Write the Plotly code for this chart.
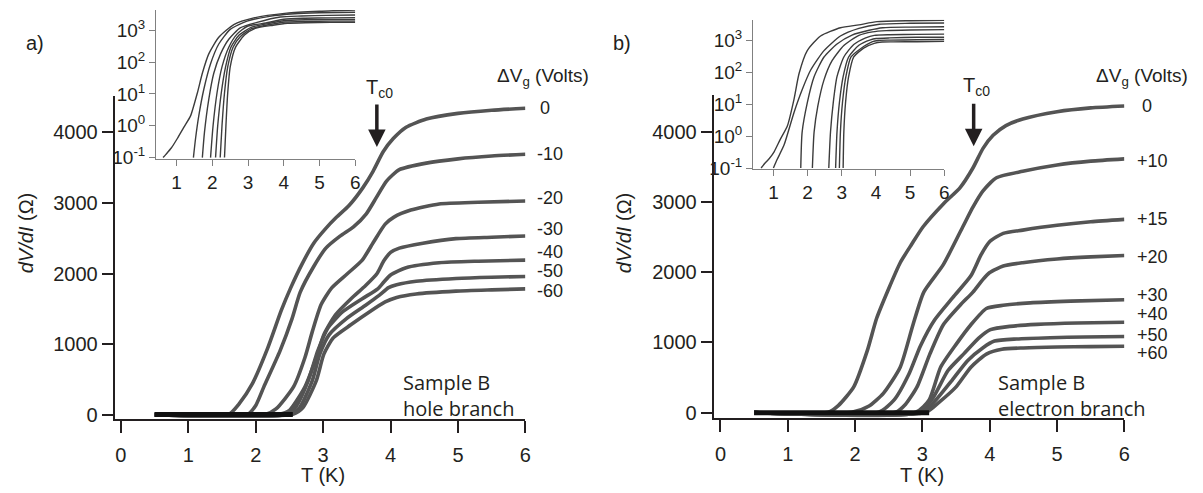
import plotly.graph_objects as go

W, H = 1203, 493

# ---------------- panel a) : sample B, hole branch ----------------
hole_gate = ["0", "-10", "-20", "-30", "-40", "-50", "-60"]
hole_T = [
    [0.5, 1.6, 1.75, 1.95, 2.18, 2.38, 2.52, 2.69, 2.86, 3.03, 3.2, 3.38, 3.59, 3.74, 3.89, 4.04, 4.23, 4.53, 5.0, 5.5, 6.0],
    [0.5, 1.88, 2.0, 2.12, 2.36, 2.54, 2.66, 2.86, 3.04, 3.25, 3.45, 3.64, 3.79, 3.94, 4.13, 4.53, 5.0, 5.5, 6.0],
    [0.5, 2.15, 2.3, 2.56, 2.73, 2.84, 2.97, 3.13, 3.35, 3.58, 3.75, 3.92, 4.05, 4.3, 4.72, 5.3, 6.0],
    [0.5, 2.35, 2.5, 2.73, 2.9, 3.01, 3.18, 3.41, 3.63, 3.8, 3.9, 4.0, 4.13, 4.48, 4.97, 5.5, 6.0],
    [0.5, 2.45, 2.6, 2.78, 2.92, 3.07, 3.29, 3.58, 3.81, 3.9, 4.0, 4.23, 4.72, 5.3, 6.0],
    [0.5, 2.5, 2.65, 2.84, 2.95, 3.09, 3.35, 3.63, 3.83, 3.97, 4.09, 4.38, 4.97, 5.5, 6.0],
    [0.5, 2.55, 2.7, 2.9, 3.01, 3.15, 3.41, 3.69, 3.92, 4.09, 4.38, 4.97, 5.5, 6.0],
]
hole_R = [
    [0, 5, 150, 440, 950, 1480, 1800, 2140, 2430, 2630, 2800, 2960, 3218, 3449, 3726, 3913, 4074, 4190, 4270, 4315, 4343],
    [0, 5, 130, 393, 903, 1365, 1736, 2100, 2360, 2530, 2662, 2847, 3079, 3310, 3472, 3565, 3625, 3665, 3690],
    [0, 5, 80, 393, 810, 1180, 1560, 1800, 1990, 2190, 2450, 2700, 2800, 2900, 2986, 3010, 3028],
    [0, 5, 60, 393, 810, 1134, 1412, 1640, 1830, 2000, 2180, 2300, 2360, 2430, 2495, 2515, 2532],
    [0, 5, 120, 486, 903, 1226, 1458, 1643, 1782, 1880, 1980, 2083, 2153, 2175, 2190],
    [0, 5, 100, 486, 857, 1134, 1365, 1551, 1690, 1800, 1840, 1890, 1930, 1948, 1958],
    [0, 5, 100, 486, 857, 1088, 1273, 1458, 1597, 1660, 1710, 1750, 1768, 1782],
]
hole_base_T = [0.5, 2.55]
hole_base_R = [0, 0]

# inset a) (log scale), values are log10 of dV/dI
hole_inset_T = [
    [0.62, 0.7, 0.85, 1.02, 1.2, 1.39, 1.58, 1.72, 1.9, 2.18, 2.6, 3.16, 4.08, 5.0, 6.0],
    [1.47, 1.53, 1.62, 1.76, 1.95, 2.18, 2.5, 2.97, 3.6, 4.3, 5.0, 6.0],
    [1.72, 1.78, 1.9, 2.04, 2.23, 2.46, 2.78, 3.25, 3.9, 4.5, 5.2, 6.0],
    [1.95, 2.02, 2.13, 2.27, 2.46, 2.69, 2.97, 3.5, 4.0, 4.6, 5.3, 6.0],
    [2.09, 2.15, 2.25, 2.37, 2.52, 2.75, 3.1, 3.6, 4.0, 4.6, 5.3, 6.0],
    [2.22, 2.27, 2.34, 2.43, 2.58, 2.78, 3.1, 3.6, 4.05, 4.6, 5.3, 6.0],
    [2.34, 2.38, 2.43, 2.5, 2.65, 2.9, 3.2, 3.7, 4.1, 4.6, 5.3, 6.0],
]
hole_inset_logR = [
    [-1.0, -0.9, -0.7, -0.4, -0.05, 0.31, 1.03, 1.65, 2.26, 2.78, 3.18, 3.39, 3.54, 3.6, 3.64],
    [-1.0, -0.4, 0.31, 1.14, 1.95, 2.57, 3.03, 3.29, 3.44, 3.52, 3.55, 3.57],
    [-1.0, -0.2, 0.83, 1.65, 2.26, 2.72, 3.08, 3.25, 3.42, 3.45, 3.47, 3.48],
    [-1.0, 0.0, 1.03, 1.85, 2.47, 2.88, 3.12, 3.23, 3.35, 3.38, 3.39, 3.40],
    [-1.0, 0.0, 1.03, 1.85, 2.47, 2.85, 3.1, 3.22, 3.3, 3.33, 3.34, 3.34],
    [-1.0, 0.0, 1.03, 1.85, 2.47, 2.8, 3.05, 3.18, 3.26, 3.28, 3.29, 3.29],
    [-1.0, 0.0, 1.03, 1.85, 2.47, 2.85, 3.06, 3.16, 3.22, 3.24, 3.25, 3.25],
]

# ---------------- panel b) : sample B, electron branch ----------------
elec_gate = ["0", "+10", "+15", "+20", "+30", "+40", "+50", "+60"]
elec_T = [
    [0.5, 1.6, 1.75, 1.98, 2.18, 2.32, 2.5, 2.67, 2.84, 3.01, 3.31, 3.56, 3.75, 3.9, 4.05, 4.24, 4.49, 5.0, 5.5, 6.0],
    [0.5, 1.95, 2.2, 2.42, 2.67, 2.86, 3.02, 3.31, 3.6, 3.75, 3.9, 4.1, 4.49, 5.0, 5.5, 6.0],
    [0.5, 2.35, 2.58, 2.8, 2.97, 3.18, 3.45, 3.72, 3.87, 4.0, 4.2, 4.49, 5.0, 5.5, 6.0],
    [0.5, 2.6, 2.75, 2.92, 3.11, 3.31, 3.56, 3.75, 3.9, 4.0, 4.2, 4.49, 5.0, 5.5, 6.0],
    [0.5, 2.9, 3.1, 3.27, 3.5, 3.72, 3.95, 4.2, 4.6, 5.2, 6.0],
    [0.5, 2.95, 3.15, 3.38, 3.61, 3.84, 4.01, 4.3, 4.7, 5.3, 6.0],
    [0.5, 3.0, 3.2, 3.44, 3.67, 3.9, 4.07, 4.4, 4.9, 5.4, 6.0],
    [0.5, 3.05, 3.25, 3.5, 3.72, 3.95, 4.18, 4.5, 5.0, 5.5, 6.0],
]
elec_R = [
    [0, 5, 100, 367, 880, 1345, 1770, 2137, 2400, 2650, 2975, 3208, 3487, 3767, 3953, 4092, 4186, 4290, 4345, 4372],
    [0, 5, 90, 275, 647, 1253, 1718, 2110, 2650, 2929, 3161, 3348, 3440, 3530, 3585, 3617],
    [0, 5, 181, 550, 950, 1320, 1640, 1950, 2250, 2440, 2556, 2602, 2670, 2720, 2755],
    [0, 5, 120, 367, 834, 1253, 1532, 1718, 1900, 1997, 2090, 2137, 2190, 2220, 2239],
    [0, 5, 181, 647, 973, 1253, 1485, 1530, 1565, 1590, 1610],
    [0, 5, 200, 600, 834, 1066, 1183, 1230, 1258, 1278, 1289],
    [0, 5, 180, 461, 740, 926, 1020, 1050, 1068, 1078, 1085],
    [0, 5, 150, 367, 647, 834, 903, 922, 935, 941, 946],
]
elec_base_T = [0.5, 3.1]
elec_base_R = [0, 0]

elec_inset_T = [
    [0.64, 0.75, 0.88, 1.02, 1.2, 1.41, 1.6, 1.75, 1.99, 2.38, 2.96, 3.5, 4.03, 5.0, 6.0],
    [1.0, 1.1, 1.31, 1.6, 1.84, 2.09, 2.48, 2.96, 3.5, 4.1, 5.0, 6.0],
    [1.8, 1.84, 1.99, 2.19, 2.48, 2.86, 3.3, 3.8, 4.2, 5.0, 6.0],
    [2.14, 2.19, 2.3, 2.48, 2.72, 3.06, 3.5, 3.9, 4.3, 5.0, 6.0],
    [2.62, 2.67, 2.75, 2.86, 3.06, 3.35, 3.7, 3.95, 4.4, 5.2, 6.0],
    [2.82, 2.86, 2.93, 3.04, 3.2, 3.5, 3.84, 4.01, 4.4, 5.2, 6.0],
    [2.93, 2.96, 3.02, 3.12, 3.27, 3.55, 3.9, 4.07, 4.4, 5.2, 6.0],
    [3.04, 3.06, 3.11, 3.2, 3.35, 3.64, 3.95, 4.18, 4.5, 5.2, 6.0],
]
elec_inset_logR = [
    [-1.0, -0.85, -0.7, -0.49, -0.1, 0.33, 1.15, 1.97, 2.69, 3.15, 3.41, 3.5, 3.6, 3.63, 3.64],
    [-1.0, -0.75, -0.28, 0.74, 1.46, 2.08, 2.69, 3.15, 3.39, 3.52, 3.55, 3.56],
    [-1.0, 0.13, 1.05, 1.87, 2.49, 2.9, 3.18, 3.33, 3.41, 3.43, 3.44],
    [-1.0, 0.13, 0.95, 1.77, 2.38, 2.85, 3.17, 3.28, 3.32, 3.34, 3.35],
    [-1.0, 0.13, 1.05, 1.87, 2.49, 2.88, 3.09, 3.17, 3.19, 3.2, 3.21],
    [-1.0, 0.13, 1.05, 1.87, 2.49, 2.86, 3.03, 3.07, 3.09, 3.11, 3.11],
    [-1.0, 0.13, 1.05, 1.87, 2.49, 2.75, 2.97, 3.01, 3.02, 3.03, 3.04],
    [-1.0, 0.13, 1.05, 1.87, 2.49, 2.77, 2.92, 2.96, 2.965, 2.97, 2.98],
]

inset_ticks = [0.1, 1, 10, 100, 1000]
inset_ticktext = ["10<sup>-1</sup>", "10<sup>0</sup>", "10<sup>1</sup>", "10<sup>2</sup>", "10<sup>3</sup>"]

INK = "#231f20"
CURVE = "#545454"
TICKFONT = "Liberation Sans, Arial, sans-serif"
TEXTFONT = "Open Sans, Noto Sans, sans-serif"


def px(x):
    return x / W


def py(y):
    return 1 - y / H


fig = go.Figure()


def add_main(T_list, R_list, base_T, base_R, xa, ya):
    for T, R in zip(T_list, R_list):
        fig.add_trace(go.Scatter(
            x=T, y=R, mode="lines", xaxis=xa, yaxis=ya, showlegend=False, hoverinfo="skip",
            line=dict(color=CURVE, width=3.6, shape="spline", smoothing=0.6),
        ))
    fig.add_trace(go.Scatter(
        x=base_T, y=base_R, mode="lines", xaxis=xa, yaxis=ya, showlegend=False, hoverinfo="skip",
        line=dict(color="#111111", width=5),
    ))


def add_inset(T_list, logR_list, xa, ya):
    for T, L in zip(T_list, logR_list):
        fig.add_trace(go.Scatter(
            x=T, y=[10 ** v for v in L], mode="lines", xaxis=xa, yaxis=ya, showlegend=False,
            hoverinfo="skip", line=dict(color="#3c3c3c", width=1.4, shape="spline", smoothing=0.6),
        ))


add_main(hole_T, hole_R, hole_base_T, hole_base_R, "x", "y")
add_inset(hole_inset_T, hole_inset_logR, "x2", "y2")
add_main(elec_T, elec_R, elec_base_T, elec_base_R, "x3", "y3")
add_inset(elec_inset_T, elec_inset_logR, "x4", "y4")

main_ax = dict(showline=True, linecolor=INK, linewidth=1.6, ticks="outside", ticklen=12, tickwidth=1.6,
               tickcolor=INK, showgrid=False, zeroline=False,
               tickfont=dict(family=TICKFONT, size=20, color=INK))
inset_ax = dict(showline=True, linecolor="#808080", linewidth=1.4, ticks="outside", ticklen=6, tickwidth=1.3,
                tickcolor="#808080", showgrid=False, zeroline=False,
                tickfont=dict(family=TICKFONT, size=19, color=INK))

fig.update_layout(
    width=W, height=H, autosize=False,
    margin=dict(l=0, r=0, t=0, b=0),
    paper_bgcolor="white", plot_bgcolor="rgba(0,0,0,0)",
    xaxis=dict(main_ax, domain=[px(108), px(520)], range=[-0.081, 6.0], tickvals=[0, 1, 2, 3, 4, 5, 6],
               anchor="y", ticklabelstandoff=5),
    yaxis=dict(main_ax, domain=[py(420), py(90)], range=[-69, 4514], tickvals=[0, 1000, 2000, 3000, 4000],
               anchor="x"),
    xaxis2=dict(inset_ax, domain=[px(149), px(349)], range=[0.43, 6.0], tickvals=[1, 2, 3, 4, 5, 6], anchor="y2"),
    yaxis2=dict(inset_ax, type="log", domain=[py(154.3), py(2)], range=[-1.05, 3.64], tickvals=inset_ticks,
                ticktext=inset_ticktext, anchor="x2"),
    xaxis3=dict(main_ax, domain=[px(710), px(1122)], range=[-0.089, 6.0], tickvals=[0, 1, 2, 3, 4, 5, 6],
                anchor="y3", ticklabelstandoff=5),
    yaxis3=dict(main_ax, domain=[py(418.3), py(88.3)], range=[-74, 4535], tickvals=[0, 1000, 2000, 3000, 4000],
                anchor="x3"),
    xaxis4=dict(inset_ax, domain=[px(749), px(941)], range=[0.41, 6.0], tickvals=[1, 2, 3, 4, 5, 6], anchor="y4"),
    yaxis4=dict(inset_ax, type="log", domain=[py(164.3), py(12)], range=[-1.03, 3.66], tickvals=inset_ticks,
                ticktext=inset_ticktext, anchor="x4"),
)

ann = []


def text(x, y, s, size=20, family=TICKFONT, **kw):
    d = dict(x=px(x), y=py(y), xref="paper", yref="paper", text=s, showarrow=False,
             xanchor="center", yanchor="middle", font=dict(family=family, size=size, color=INK))
    d.update(kw)
    ann.append(d)


# panel letters
text(27, 36, "a)")
text(617, 36, "b)")

# axis titles
text(317, 477, "T (K)")
text(919, 477, "T (K)")
text(18, 229, "<i>dV/dI</i> (\u03a9)", textangle=-90)
text(619, 229, "<i>dV/dI</i> (\u03a9)", textangle=-90)

# gate voltage heading
text(538, 70, "\u0394V<sub>g</sub> (Volts)", size=19)
text(1140, 70, "\u0394V<sub>g</sub> (Volts)", size=19)

# T_c0 labels and arrows
text(373, 82, "T<sub>c0</sub>")
text(973, 80, "T<sub>c0</sub>")
for ax_x, tip_y in [(370.7, 142), (970.5, 141)]:
    ann.append(dict(x=px(ax_x), y=py(tip_y), xref="paper", yref="paper", text="", showarrow=True,
                    ax=0, ay=-44, arrowhead=2, arrowsize=1.0, arrowwidth=3.5, arrowcolor=INK))

# sample descriptions
text(395, 366, "Sample B<br>hole branch", size=20, family=TEXTFONT, xanchor="left", yanchor="top", align="left")
text(993, 366, "Sample B<br>electron branch", size=20, family=TEXTFONT, xanchor="left", yanchor="top", align="left")

# gate labels at the end of each curve
hole_label_dy = [0, 0, 3, 7, 8, 5, -2]
hole_label_dx = [13, 10, 10, 10, 10, 10, 10]
for g, R, dy, dx in zip(hole_gate, hole_R, hole_label_dy, hole_label_dx):
    ann.append(dict(x=6.0, y=R[-1], xref="x", yref="y", text=g, showarrow=False, xanchor="left",
                    yanchor="middle", xshift=dx, yshift=dy, font=dict(family=TICKFONT, size=18, color=INK)))

elec_label_dy = [0, -2, 0, -1, 5, 8, 2, -7]
elec_label_dx = [16, 11, 11, 11, 11, 11, 11, 11]
for g, R, dy, dx in zip(elec_gate, elec_R, elec_label_dy, elec_label_dx):
    ann.append(dict(x=6.0, y=R[-1], xref="x3", yref="y3", text=g, showarrow=False, xanchor="left",
                    yanchor="middle", xshift=dx, yshift=dy, font=dict(family=TICKFONT, size=18, color=INK)))

fig.update_layout(annotations=ann)

fig.write_html("out.html")
